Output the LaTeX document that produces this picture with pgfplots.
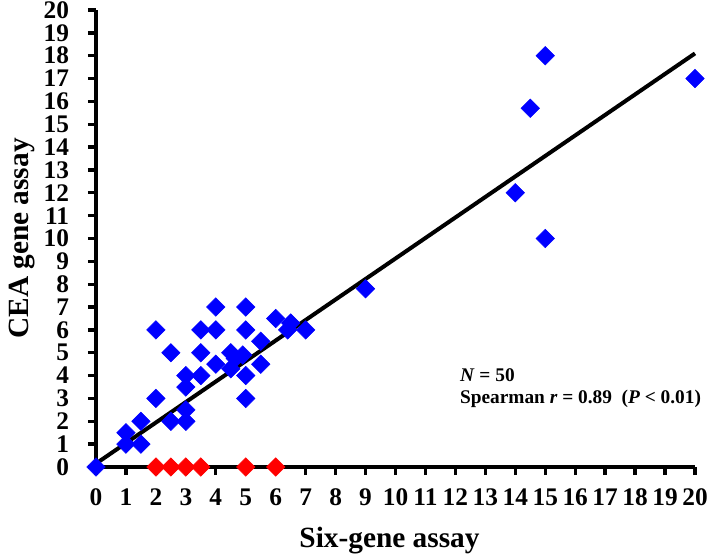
\documentclass[border=0pt]{standalone}
\usepackage{fontspec}
\setmainfont{Liberation Serif}
\usepackage{pgfplots}
\pgfplotsset{compat=1.18}

\pgfplotstableread{
x y
0 0
1 1.5
1 1
1.5 1
1.5 2
2 6
2 3
2.5 5
2.5 2
3 4
3 3.5
3 2.5
3 2
3.5 6
3.5 5
3.5 4
4 7
4 6
4 4.5
4.5 5
4.65 4.75
4.5 4.3
4.9 4.9
5 7
5 6
5 4
5 3
5.5 5.5
5.5 4.5
6 6.5
6.5 6.3
6.4 6.0
7 6
9 7.8
14 12
14.5 15.7
15 18
15 10
20 17
}\bluedata

\pgfplotstableread{
x y
2 0
2.5 0
3 0
3.5 0
5 0
6 0
}\reddata

\begin{document}
\begin{tikzpicture}
\begin{axis}[
    scale only axis,
    width=449.25pt, height=342.75pt,
    xmin=0, xmax=20, ymin=0, ymax=20,
    xtick={0,...,20}, ytick={0,...,20},
    axis lines*=left,
    axis line style={line width=3pt, black},
    tick align=outside,
    major tick length=6pt,
    tick style={line width=2.5pt, black},
    ticklabel style={font=\fontsize{19}{21}\selectfont\bfseries, inner sep=0pt},
    xticklabel style={anchor=north, yshift=-10pt},
    yticklabel style={anchor=east, xshift=-14pt},
    /pgf/number format/assume math mode=true,
    xlabel={Six-gene assay},
    ylabel={CEA gene assay},
    every axis x label/.style={at={(rel axis cs:0.49,0)}, yshift=-55pt, anchor=center,
        font=\fontsize{22}{24}\selectfont\bfseries, inner sep=0pt},
    every axis y label/.style={at={(rel axis cs:0,0.5)}, xshift=-55.5pt, rotate=90, anchor=center,
        font=\fontsize{22}{24}\selectfont\bfseries, inner sep=0pt},
    clip=false,
]
\coordinate (ll) at (rel axis cs:0,0);
\coordinate (ur) at (rel axis cs:1,1);
\addplot[only marks, mark=square*, mark size=4.9pt, color=blue,
    mark options={rotate=45}] table {\bluedata};
\addplot[black, line width=3pt] coordinates {(0,0.15) (20,18.1)};
\addplot[only marks, mark=square*, mark size=4.9pt, color=red,
    mark options={rotate=45}] table {\reddata};
\node[anchor=base west, font=\fontsize{14.5}{18}\selectfont\bfseries]
    at (axis cs:12.0,3.72) {\textit{N} = 50};
\node[anchor=base west, font=\fontsize{14.5}{18}\selectfont\bfseries]
    at (axis cs:12.0,2.8) {Spearman \textit{r} = 0.89~~(\textit{P} < 0.01)};
\end{axis}
\pgfresetboundingbox
\path[use as bounding box] ([xshift=-72pt,yshift=-66pt]ll) rectangle ([xshift=10.5pt,yshift=7.5pt]ur);
\end{tikzpicture}
\end{document}
